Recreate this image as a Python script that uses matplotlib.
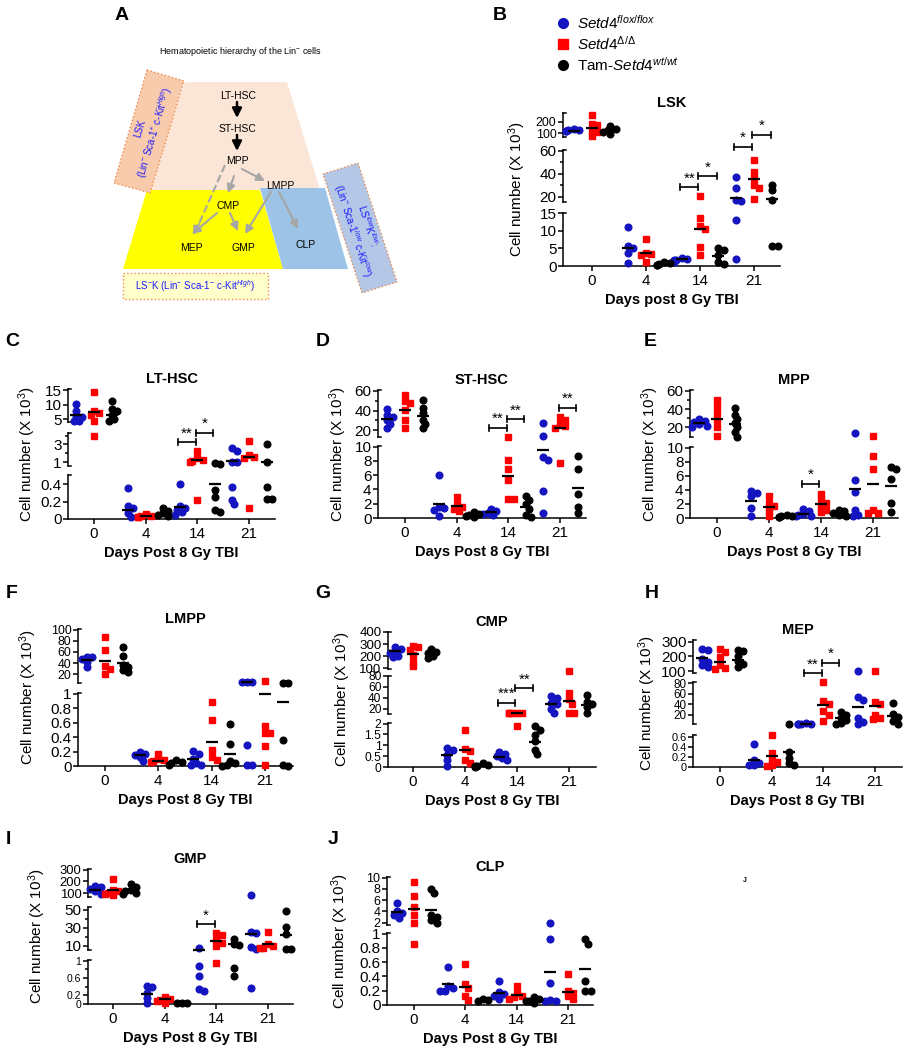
import matplotlib
matplotlib.use('Agg')
import matplotlib.pyplot as plt
from matplotlib.patches import Polygon, Rectangle
import numpy as np

plt.rcParams['font.family'] = ['Liberation Sans', 'DejaVu Sans']
plt.rcParams['mathtext.fontset'] = 'custom'
plt.rcParams['mathtext.rm'] = 'Liberation Sans'
plt.rcParams['mathtext.it'] = 'Liberation Sans:italic'
plt.rcParams['mathtext.bf'] = 'Liberation Sans:bold'

W, H = 905, 1050
DAYS = ['0', '4', '14', '21']
COLORS = ['#1414c0', '#ff0000', '#000000']
MARKERS = ['o', 's', 'o']
OFFSETS = [-0.34, 0.0, 0.34]

# ---- data (x10^3 cells), one list per day: 0, 4, 14, 21 ----
# LSK
lsk_flox = [[140, 130, 125, 120, 115], [10.9, 5.6, 5.0, 3.6, 0.9],
            [2.3, 2.0, 1.8, 1.6, 1.3, 1.2], [37, 28, 17, 16.5, 12.9, 2.1]]
lsk_del = [[265, 180, 170, 120, 110, 75], [7.7, 3.8, 3.4, 3.0, 1.2],
           [20.6, 13.5, 11.4, 10.4, 5.5, 3.1], [52, 41.6, 36.4, 30, 27.8, 18.3]]
lsk_wt = [[165, 140, 125, 110, 90], [1.0, 0.8, 0.5, 0.4, 0.3],
          [5.1, 4.6, 3.1, 1.2, 0.7], [30.6, 25.7, 17.6, 5.8, 5.8]]
lsk_lines = [[120, 5.2, 2.1, 18.6], [150, 3.6, 10.6, 35], [130, 0.6, 2.8, 17.7]]
# (day, group a, group b, segment, y, label)
lsk_stars = [(2, 0, 1, 1, 28.3, '**'), (2, 1, 2, 1, 37.8, '*'),
             (3, 0, 1, 1, 63.2, '*'), (3, 1, 2, 2, 85, '*')]

# LT-HSC
lt_flox = [[10.2, 7.9, 6.0, 5.6, 4.4, 4.2], [0.36, 0.15, 0.13, 0.07, 0.02],
           [0.40, 0.15, 0.13, 0.10, 0.08, 0.05], [2.6, 2.25, 1.0, 1.0, 0.37, 0.22, 0.17]]
lt_del = [[14.4, 8.0, 7.3, 6.5, 4.5, 3.95], [0.06, 0.04, 0.03, 0.02, 0.02],
          [2.3, 1.5, 1.26, 1.1, 1.0, 0.22], [3.4, 1.75, 1.55, 1.5, 0.13]]
lt_wt = [[11.4, 8.5, 7.7, 6.5, 5.0, 4.2], [0.13, 0.09, 0.07, 0.05, 0.03],
         [0.85, 0.8, 0.34, 0.25, 0.11, 0.08], [3.0, 1.0, 0.37, 0.23, 0.23]]
lt_lines = [[6.3, 0.11, 0.14, 1.1], [7.4, 0.03, 1.2, 1.55], [6.5, 0.07, 0.40, 1.0]]
lt_stars = [(2, 0, 1, 1, 3.26, '**'), (2, 1, 2, 1, 4.3, '*')]

# ST-HSC
st_flox = [[42, 35, 33, 30, 26, 22], [6.0, 1.55, 1.4, 1.1, 0.25],
           [1.3, 1.0, 0.7, 0.6, 0.45], [27.5, 14, 8.5, 8.1, 3.75, 0.75]]
st_del = [[56, 50, 48, 41, 30, 22], [3.0, 1.9, 1.55, 1.3, 1.0],
          [13.1, 8.1, 6.9, 5.4, 2.7, 2.7], [33.7, 30, 26, 24, 22.7, 7.75]]
st_wt = [[51, 43, 38, 30, 26, 22], [0.85, 0.6, 0.38, 0.23, 0.15],
         [3.05, 2.5, 1.9, 1.3, 0.38, 0.15], [8.7, 6.9, 3.3, 1.55, 0.7]]
st_lines = [[31, 2.0, 0.85, 9.6], [40.5, 1.65, 5.9, 21.7], [34, 0.5, 1.55, 4.2]]
st_stars = [(2, 0, 1, 1, 22.4, '**'), (2, 1, 2, 1, 31, '**'), (3, 1, 2, 1, 43, '**')]

# MPP
mpp_flox = [[29, 27, 25.5, 23.6, 22, 21], [3.9, 3.5, 3.2, 1.4, 0.23],
            [1.27, 0.94, 0.6, 0.47, 0.33, 0.23], [13.8, 5.4, 3.75, 1.1, 0.47, 0.33]]
mpp_del = [[50, 44, 36, 28, 20.5, 10.5], [3.15, 2.1, 1.7, 0.95, 0.23],
           [3.4, 2.7, 2.2, 1.6, 1.1, 0.8], [10.2, 8.8, 6.95, 1.17, 0.7, 0.7]]
mpp_wt = [[41, 34, 29, 24.7, 20.4, 14.5, 10], [0.47, 0.33, 0.23, 0.14, 0.14],
          [1.17, 0.94, 0.7, 0.47, 0.33], [7.3, 6.95, 5.6, 2.2, 0.8]]
mpp_lines = [[24.7, 2.35, 0.6, 4.1], [29, 1.55, 2.0, 4.8], [24, 0.25, 0.7, 4.55]]
mpp_stars = [(2, 0, 1, 0, 4.9, '*')]

# LMPP
lmpp_flox = [[51.5, 50, 46.7, 42.4, 33.3], [0.2, 0.17, 0.15, 0.13, 0.07],
             [0.21, 0.17, 0.1, 0.04, 0.02, 0.015], [6.3, 6.0, 6.0, 0.29, 0.02, 0.02]]
lmpp_del = [[86, 63.6, 34.5, 30, 20], [0.165, 0.09, 0.08, 0.07, 0.06],
            [0.885, 0.63, 0.22, 0.13, 0.08], [7.3, 0.56, 0.46, 0.45, 0.275, 0.015]]
lmpp_wt = [[68, 52.7, 36.4, 33.3, 27, 24], [0.08, 0.06, 0.04, 0.02],
           [0.58, 0.31, 0.07, 0.04, 0.015, 0.0], [5.0, 5.0, 0.36, 0.015, 0.0]]
lmpp_lines = [[45.5, 0.15, 0.09, 5.5], [44, 0.075, 0.335, 1.0], [40.6, 0.06, 0.165, 0.885]]
lmpp_stars = []

# CMP
cmp_flox = [[277, 255, 236, 223, 201, 190], [0.88, 0.8, 0.57, 0.34, 0.03],
            [0.69, 0.62, 0.49, 0.42, 0.34], [43, 40, 30, 28, 19, 11.4]]
cmp_del = [[283, 277, 250, 209, 154, 114], [1.69, 0.83, 0.75, 0.34, 0.18],
           [12.5, 12, 11.8, 11.5, 11, 1.88], [90, 49, 37, 28.6, 11.4, 11.4]]
cmp_wt = [[255, 236, 223, 201, 182], [0.18, 0.11, 0.06, 0.03, 0.0],
          [1.88, 1.72, 1.49, 1.2, 0.8, 0.62], [45, 33, 28.6, 23.7, 12.6]]
cmp_lines = [[242, 0.57, 0.46, 28.6], [215, 0.77, 11.4, 34.7], [223, 0.08, 1.15, 26.7]]
cmp_stars = [(2, 0, 1, 1, 31, '***'), (2, 1, 2, 1, 57.4, '**')]

# MEP
mep_flox = [[254, 243, 185, 162, 139, 128], [0.47, 0.15, 0.08, 0.05, 0.05],
            [3, 2.5, 2.2, 2.2, 2.0], [100, 53, 48, 12.5, 6.2, 2.0]]
mep_del = [[249, 231, 197, 139, 123, 116], [0.65, 0.28, 0.15, 0.11, 0.05, 0.03],
           [81.6, 45, 40.7, 27, 20, 7.4], [100, 44, 39.5, 18.7, 12.5, 11]]
mep_wt = [[247, 236, 201, 169, 151, 128], [2.0, 0.3, 0.18, 0.08, 0.05],
          [25, 18.7, 13.7, 9.3, 3, 2.0], [42, 22, 15.6, 8, 2]]
mep_lines = [[192, 0.135, 2.4, 34.5], [162, 0.22, 39, 35.7], [174, 0.3, 13.7, 16.9]]
mep_stars = [(2, 0, 1, 1, 98.6, '**'), (2, 1, 2, 1, 119, '*')]

# GMP
gmp_flox = [[163, 151, 134, 114, 94], [0.42, 0.39, 0.25, 0.13, 0.02],
            [7.1, 0.87, 0.65, 0.34, 0.31], [86, 25.4, 24.3, 8.2, 6, 0.36]]
gmp_del = [[223, 129, 114, 100, 94, 86], [0.17, 0.12, 0.09, 0.08, 0.03],
           [24.3, 21.7, 16.2, 12.6, 9.6, 0.95], [24.7, 11.8, 10, 7.8, 7.1]]
gmp_wt = [[180, 151, 129, 114, 100, 94], [0.03, 0.02, 0.03],
          [17, 11.5, 10.7, 0.83, 0.65], [49, 31, 22.8, 6, 6]]
gmp_lines = [[129, 0.23, 5.2, 22.8], [129, 0.11, 15.5, 11.5], [120, 0.02, 11.5, 21.7]]
gmp_stars = [(2, 0, 1, 1, 33.9, '*')]

# CLP
clp_flox = [[5.5, 4.06, 3.65, 3.35, 2.76], [0.53, 0.26, 0.24, 0.2, 0.19],
            [0.34, 0.18, 0.16, 0.13, 0.09], [1.9, 0.92, 0.31, 0.07, 0.06, 0.05]]
clp_del = [[9.2, 6.8, 4.8, 3.35, 1.9, 0.86], [0.58, 0.3, 0.24, 0.13, 0.07],
           [0.27, 0.165, 0.13, 0.11, 0.08], [0.43, 0.2, 0.165, 0.12, 0.09]]
clp_wt = [[7.9, 7.2, 3.35, 3.0, 2.5, 1.9], [0.09, 0.07, 0.06],
          [0.11, 0.08, 0.06, 0.05, 0.03], [0.92, 0.86, 0.34, 0.2, 0.2]]
clp_lines = [[3.94, 0.29, 0.165, 0.46], [4.5, 0.25, 0.14, 0.18], [4.2, 0.07, 0.06, 0.5]]
clp_stars = []

fig = plt.figure(figsize=(W / 100, H / 100), dpi=100)


def fx(x):
    return x / W


def fy(y):
    return 1 - y / H


# overlay in pixel coordinates for the diagram, legend and letters
ov = fig.add_axes([0, 0, 1, 1], zorder=-1)
ov.set_xlim(0, W)
ov.set_ylim(H, 0)
ov.axis('off')

# ---- panel A: hierarchy diagram ----
ov.add_patch(Polygon([(185, 82), (287, 82), (320, 190), (148, 190)], fc='#fbe5d6', ec='none'))
ov.add_patch(Polygon([(147, 190), (260, 190), (283, 269), (123, 269)], fc='#ffff00', ec='none'))
ov.add_patch(Polygon([(260, 188), (325, 188), (348, 269), (283, 269)], fc='#9dc3e6', ec='none'))
ov.add_patch(Polygon([(147, 70), (184, 81), (150, 193), (114, 183)], fc='#f8cbad', ec='#f08a4b', ls=':', lw=1))
ov.add_patch(Polygon([(323, 174), (358, 163), (397, 282), (362, 293)], fc='#b4c7e7', ec='#f08a4b', ls=':', lw=1))
ov.add_patch(Rectangle((123, 273), 145, 26, fc='#ffffcc', ec='#f08a4b', ls=':', lw=1))

ov.text(240, 52, 'Hematopoietic hierarchy of the Lin$^{-}$ cells', ha='center', va='center', fontsize=6.5)
ov.text(149, 131, 'LSK\n(Lin$^{-}$ Sca-1$^{+}$ c-Kit$^{High}$)', rotation=73.5, ha='center', va='center',
        fontsize=7, color='#1a1aff', multialignment='center', rotation_mode='anchor')
ov.text(360, 228, 'LS$^{low}$K$^{low}$:\n(Lin$^{-}$ Sca-1$^{low}$ c-Kit$^{low}$)', rotation=-72, ha='center',
        va='center', fontsize=7, color='#1a1aff', multialignment='center', rotation_mode='anchor')
ov.text(195, 286, 'LS$^{-}$K (Lin$^{-}$ Sca-1$^{-}$ c-Kit$^{High}$)', ha='center', va='center',
        fontsize=7, color='#1a1aff')

for label, x, y in [('LT-HSC', 238, 96), ('ST-HSC', 238, 129), ('MPP', 237, 161), ('LMPP', 280, 186),
                    ('CMP', 228, 206), ('MEP', 191, 248), ('GMP', 243, 248), ('CLP', 306, 245)]:
    ov.text(x, y, label, ha='center', va='center', fontsize=7.5)


def arrow(p0, p1, color, lw=1.5, ms=12):
    ov.annotate('', xy=p1, xytext=p0,
                arrowprops=dict(arrowstyle='-|>', color=color, lw=lw, mutation_scale=ms, shrinkA=0, shrinkB=0))


arrow((237, 102), (237, 118), 'black', 1.8, 14)
arrow((237, 135), (237, 151), 'black', 1.8, 14)
grey = '#a6a6a6'
arrow((234, 176), (228, 193), grey)
arrow((242, 169), (265, 181), grey)
ov.plot([225, 198], [165, 226], ls='--', color=grey, lw=1.5)
arrow((199, 224), (193, 235), grey)
arrow((217, 213), (192, 234), grey)
arrow((230, 213), (238, 231), grey)
arrow((271, 192), (245, 234), grey)
arrow((279, 192), (298, 229), grey)

# ---- legend ----
leg_labels = [r'$\mathit{Setd4}^{\mathit{flox/flox}}$', r'$\mathit{Setd4}^{\Delta/\Delta}$',
              r'Tam-$\mathit{Setd4}^{\mathit{wt/wt}}$']
for i, lab in enumerate(leg_labels):
    yy = 23 + 21 * i
    ov.plot([563], [yy], marker=MARKERS[i], color=COLORS[i], ms=7 if i != 1 else 7.5, ls='none')
    ov.text(577, yy, lab, fontsize=11, va='center', ha='left')

# panel letters
for letter, x, y in [('A', 122, 15), ('B', 500, 15), ('C', 12, 342), ('D', 323, 342), ('E', 650, 342),
                     ('F', 12, 593), ('G', 323, 593), ('H', 652, 593), ('I', 8, 840), ('J', 333, 840)]:
    fig.text(fx(x), fy(y), letter, fontsize=14, fontweight='bold', ha='center', va='center')
fig.text(fx(745), fy(881), 'J', fontsize=5, fontweight='bold', ha='center', va='center')


# ---- broken-axis scatter panels ----
def seg_of(v, segs):
    for k in range(len(segs) - 1, -1, -1):
        if v >= segs[k][2]:
            return k
    return 0


def ypix(v, seg):
    top, bot, lo, hi = seg[:4]
    return bot - (v - lo) / (hi - lo) * (bot - top)


def swarm(ys, diam=4.6, step=2.6):
    placed = []
    out = [0.0] * len(ys)
    for i in np.argsort(ys):
        for c in [0, step, -step, 2 * step, -2 * step, 3 * step, -3 * step]:
            if all((c - px) ** 2 + (ys[i] - py) ** 2 >= diam ** 2 for px, py in placed):
                break
        placed.append((c, ys[i]))
        out[i] = c
    return out


def draw_panel(title, groups, lines, stars, left, right, x0, sp, segs, ylab_dx, xlabel):
    xlim = ((left - x0) / sp, (right - x0) / sp)
    axes = []
    for k, (top, bot, lo, hi, major, minor) in enumerate(segs):
        ax = fig.add_axes([fx(left), fy(bot), (right - left) / W, (bot - top) / H])
        ax.set_xlim(*xlim)
        ax.set_ylim(lo, hi)
        ax.patch.set_visible(False)
        for s in ['top', 'right']:
            ax.spines[s].set_visible(False)
        for s in ['left', 'bottom']:
            ax.spines[s].set_linewidth(1.1)
        ax.set_yticks(major)
        ax.set_yticklabels([f'{t:g}' for t in major])
        ax.set_yticks(minor, minor=True)
        # crowded break segments get slightly smaller tick labels
        gap = min(np.diff(major)) / (hi - lo) * (bot - top) if len(major) > 1 else 99
        lsize = float(np.clip(gap * 0.8, 7.5, 11))
        ax.tick_params(axis='y', which='major', length=3.5, width=1.1, labelsize=lsize, pad=1.2)
        ax.tick_params(axis='y', which='minor', length=2.2, width=1.1)
        if k == 0:
            ax.set_xticks(range(4))
            ax.set_xticklabels(DAYS)
            ax.tick_params(axis='x', length=3.5, width=1.1, labelsize=11, pad=2)
        else:
            ax.spines['bottom'].set_visible(False)
            ax.set_xticks([])
        # little caps at the break ends
        cap = 3.0 / (right - left)
        ends = [1] if k == 0 else [0, 1]
        for e in ends:
            ax.plot([0, cap], [e, e], transform=ax.transAxes, color='k', lw=1.1, clip_on=False)
        axes.append(ax)

    for g, data in enumerate(groups):
        for d, vals in enumerate(data):
            ks = [seg_of(v, segs) for v in vals]
            ys = [ypix(v, segs[k]) for v, k in zip(vals, ks)]
            dx = swarm(ys)
            for v, k, o in zip(vals, ks, dx):
                axes[k].plot(d + OFFSETS[g] + o / sp, v, marker=MARKERS[g], color=COLORS[g],
                             ms=4.8, ls='none', clip_on=False, zorder=3)
            m = lines[g][d]
            km = seg_of(m, segs)
            xc = d + OFFSETS[g]
            axes[km].plot([xc - 6 / sp, xc + 6 / sp], [m, m], color='k', lw=1.6,
                          solid_capstyle='butt', clip_on=False, zorder=4)

    for d, ga, gb, k, y, lab in stars:
        top, bot, lo, hi = segs[k][:4]
        dy = 3.0 / (bot - top) * (hi - lo)
        xa = d + OFFSETS[ga] - 0.03
        xb = d + OFFSETS[gb] - 0.03
        ax = axes[k]
        ax.plot([xa, xb], [y, y], color='k', lw=1.2, clip_on=False)
        ax.plot([xa, xa], [y - dy, y + dy], color='k', lw=1.2, clip_on=False)
        ax.plot([xb, xb], [y - dy, y + dy], color='k', lw=1.2, clip_on=False)
        ax.text((xa + xb) / 2, y + dy * 0.6, lab, ha='center', va='bottom', fontsize=11, clip_on=False)

    top_px = segs[-1][0]
    axis_px = segs[0][1]
    fig.text(fx((left + right) / 2), fy(top_px - 10), title, ha='center', va='center',
             fontsize=10.5, fontweight='bold')
    fig.text(fx(left - ylab_dx), fy((top_px + axis_px) / 2), r'Cell number (X 10$^3$)', rotation=90,
             ha='center', va='center', fontsize=11)
    fig.text(fx((left + right) / 2), fy(axis_px + 34), xlabel, ha='center', va='center',
             fontsize=10.5, fontweight='bold')


# segments from bottom up: (top px, bottom px, ylow, yhigh, major ticks, minor ticks)
draw_panel('LSK', [lsk_flox, lsk_del, lsk_wt], lsk_lines, lsk_stars, 563, 780, 592, 54,
           [(213, 266, 0, 15, [0, 5, 10, 15], []),
            (150, 202, 15.5, 60.5, [20, 40, 60], [30, 50]),
            (113, 137, 65, 280, [100, 200], [])], 46, 'Days post 8 Gy TBI')
draw_panel('LT-HSC', [lt_flox, lt_del, lt_wt], lt_lines, lt_stars, 68, 275, 94, 51.7,
           [(475, 519, 0, 0.51, [0, 0.2, 0.4], []),
            (433, 466, 0.55, 4.3, [1, 3], [2, 4]),
            (389, 422, 4.0, 15.5, [5, 10, 15], [])], 41, 'Days Post 8 Gy TBI')
draw_panel('ST-HSC', [st_flox, st_del, st_wt], st_lines, st_stars, 378, 586, 405, 51.7,
           [(446, 518, 0, 10.1, [0, 2, 4, 6, 8, 10], []),
            (390, 437, 13, 61, [20, 40, 60], [30, 50])], 40, 'Days Post 8 Gy TBI')
draw_panel('MPP', [mpp_flox, mpp_del, mpp_wt], mpp_lines, mpp_stars, 690, 898, 717, 52,
           [(447, 518, 0, 10.1, [0, 2, 4, 6, 8, 10], []),
            (390, 437, 9.5, 61, [20, 40, 60], [30, 50])], 40, 'Days Post 8 Gy TBI')
draw_panel('LMPP', [lmpp_flox, lmpp_del, lmpp_wt], lmpp_lines, lmpp_stars, 78, 293, 105, 53.3,
           [(693, 766, 0, 1.01, [0, 0.2, 0.4, 0.6, 0.8, 1], []),
            (629, 683, 4.2, 101, [20, 40, 60, 80, 100], [])], 50, 'Days Post 8 Gy TBI')
draw_panel('CMP', [cmp_flox, cmp_del, cmp_wt], cmp_lines, cmp_stars, 388, 596, 413, 52,
           [(723, 767, 0, 2.03, [0, 0.5, 1, 1.5, 2], []),
            (676, 714, 10, 80, [20, 40, 60, 80], []),
            (632, 669, 92, 400, [100, 200, 300, 400], [])], 46, 'Days Post 8 Gy TBI')
draw_panel('MEP', [mep_flox, mep_del, mep_wt], mep_lines, mep_stars, 693, 902, 720, 51.7,
           [(735, 767, 0, 0.65, [0, 0.2, 0.4, 0.6], []),
            (682, 724, 2, 82, [20, 40, 60, 80], []),
            (640, 673, 87, 312, [100, 200, 300], [])], 46, 'Days Post 8 Gy TBI')
draw_panel('GMP', [gmp_flox, gmp_del, gmp_wt], gmp_lines, gmp_stars, 88, 293, 113, 51.7,
           [(960, 1004, 0, 1.02, [0, 0.2, 0.6, 1], [0.4, 0.8]),
            (907, 950, 5.2, 53, [10, 30, 50], [20, 40]),
            (869, 897, 66, 306, [100, 200, 300], [])], 51, 'Days Post 8 Gy TBI')
draw_panel('CLP', [clp_flox, clp_del, clp_wt], clp_lines, clp_stars, 387, 593, 414, 51.3,
           [(933, 1005, 0, 1.01, [0, 0.2, 0.4, 0.6, 0.8, 1], []),
            (877, 925, 1.6, 10.1, [2, 4, 6, 8, 10], [])], 47, 'Days Post 8 Gy TBI')

fig.savefig('out.png', dpi=100)
